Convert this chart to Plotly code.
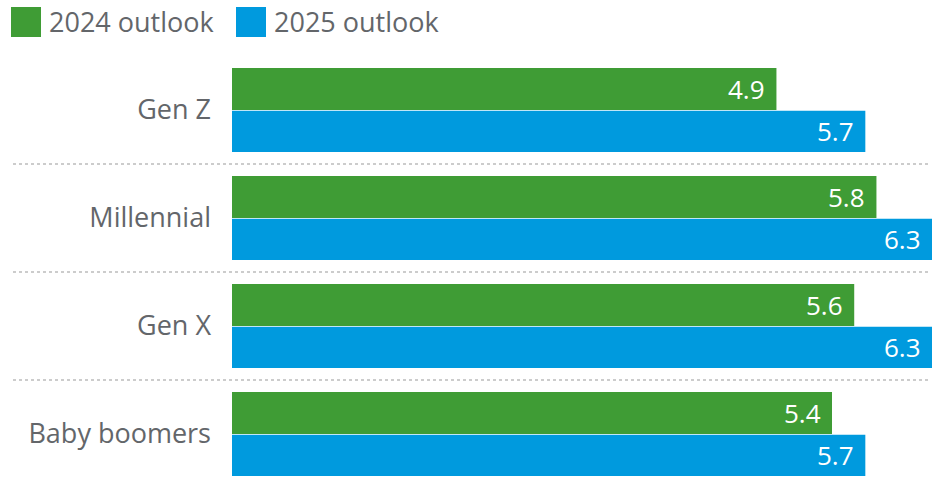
import plotly.graph_objects as go

# Generation outlook scores
categories = ["Gen Z", "Millennial", "Gen X", "Baby boomers"]
outlook_2024 = [4.9, 5.8, 5.6, 5.4]
outlook_2025 = [5.7, 6.3, 6.3, 5.7]
series_names = ["2024 outlook", "2025 outlook"]

GREEN = "#3f9c35"
BLUE = "#009ade"
TEXT = "#63666a"
FONT = "Open Sans"

W, H = 941, 497
M_L, M_R, M_T, M_B = 232, 9, 56, 9
PLOT_W = W - M_L - M_R
PLOT_H = H - M_T - M_B


def px_x(px):
    return (px - M_L) / PLOT_W


def px_y(py):
    return (H - M_B - py) / PLOT_H


idx = list(range(len(categories)))
green_off, green_w = -0.389, 0.389
blue_off, blue_w = 0.006, 0.383

fig = go.Figure()
fig.add_trace(go.Bar(
    orientation="h", y=idx, x=outlook_2024, name=series_names[0],
    width=green_w, offset=green_off, marker=dict(color=GREEN, line=dict(width=0)),
    hoverinfo="x",
))
fig.add_trace(go.Bar(
    orientation="h", y=idx, x=outlook_2025, name=series_names[1],
    width=blue_w, offset=blue_off, marker=dict(color=BLUE, line=dict(width=0)),
    hoverinfo="x",
))

annotations = []
for i, (a, b) in enumerate(zip(outlook_2024, outlook_2025)):
    for val, yy in ((a, i + green_off + green_w / 2), (b, i + blue_off + blue_w / 2)):
        annotations.append(dict(
            x=val, y=yy, xref="x", yref="y", text=f"{val:.1f}",
            showarrow=False, xanchor="right", yanchor="middle", xshift=-9,
            font=dict(family=FONT, size=26, color="white"),
        ))

# Legend drawn as swatches and labels
shapes = []
legend_items = [(11, GREEN, series_names[0]), (236, BLUE, series_names[1])]
for x0, col, name in legend_items:
    shapes.append(dict(
        type="rect", xref="paper", yref="paper",
        x0=px_x(x0), x1=px_x(x0 + 30), y0=px_y(37), y1=px_y(7),
        fillcolor=col, line=dict(width=0),
    ))
    annotations.append(dict(
        x=px_x(x0 + 36), y=px_y(22), xref="paper", yref="paper",
        text=name, showarrow=False, xanchor="left", yanchor="middle",
        font=dict(family=FONT, size=27, color=TEXT),
    ))

# Dotted separators between groups
for k in range(len(categories) - 1):
    shapes.append(dict(
        type="line", xref="paper", yref="y",
        x0=px_x(13), x1=px_x(930), y0=k + 0.5, y1=k + 0.5,
        line=dict(color="#cccccc", width=2, dash="dot"),
    ))

fig.update_layout(
    width=W, height=H,
    margin=dict(l=M_L, r=M_R, t=M_T, b=M_B, pad=0),
    paper_bgcolor="white", plot_bgcolor="white",
    showlegend=False,
    barmode="overlay",
    shapes=shapes,
    annotations=annotations,
    xaxis=dict(range=[0, 6.3], visible=False, fixedrange=True),
    yaxis=dict(
        range=[3.5, -0.5], tickmode="array", tickvals=idx, ticktext=categories,
        showgrid=False, zeroline=False, showline=False, ticks="",
        ticklabelstandoff=20,
        tickfont=dict(family=FONT, size=27, color=TEXT), fixedrange=True,
    ),
)

fig.write_html("out.html")
